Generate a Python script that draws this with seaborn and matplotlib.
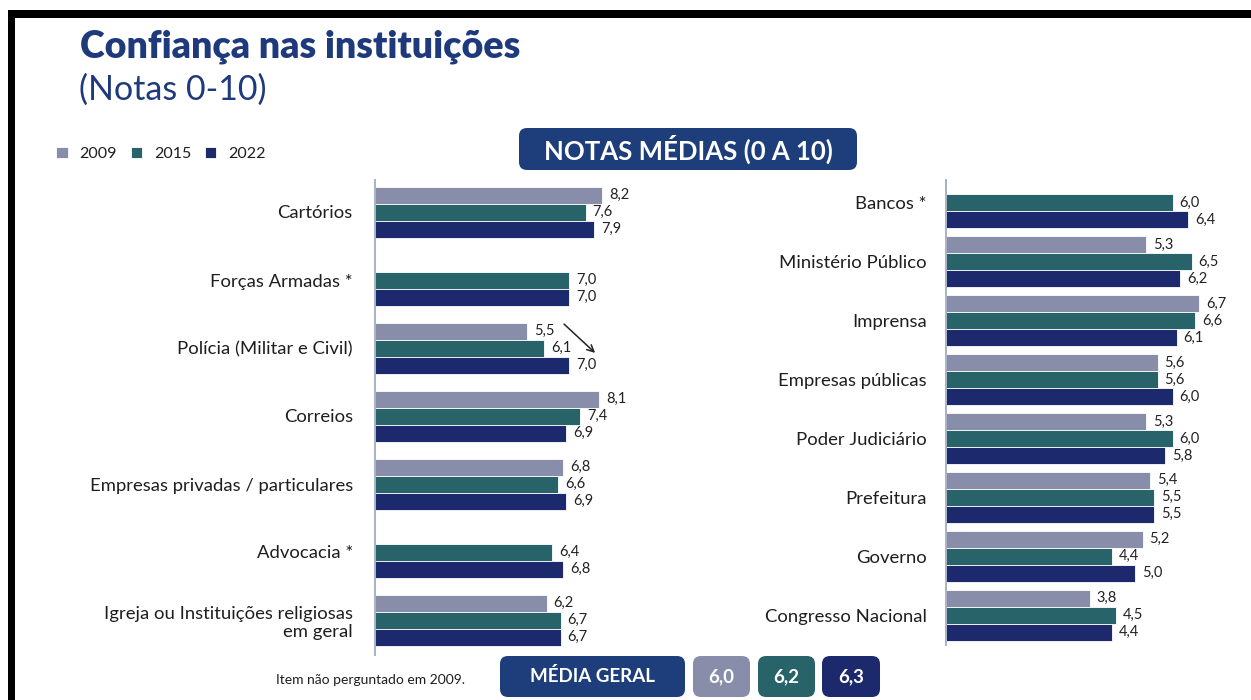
import numpy as np
import pandas as pd
import matplotlib
matplotlib.use("Agg")
import matplotlib.pyplot as plt
from matplotlib.patches import Rectangle, FancyBboxPatch
import seaborn as sns

# ---------------- data ----------------
years = ["2009", "2015", "2022"]

left_cats = ["Cartórios", "Forças Armadas *", "Polícia (Militar e Civil)", "Correios",
             "Empresas privadas / particulares", "Advocacia *",
             "Igreja ou Instituições religiosas\nem geral"]
left_2009 = [8.2, np.nan, 5.5, 8.1, 6.8, np.nan, 6.2]
left_2015 = [7.6, 7.0, 6.1, 7.4, 6.6, 6.4, 6.7]
left_2022 = [7.9, 7.0, 7.0, 6.9, 6.9, 6.8, 6.7]

right_cats = ["Bancos *", "Ministério Público", "Imprensa", "Empresas públicas",
              "Poder Judiciário", "Prefeitura", "Governo", "Congresso Nacional"]
right_2009 = [np.nan, 5.3, 6.7, 5.6, 5.3, 5.4, 5.2, 3.8]
right_2015 = [6.0, 6.5, 6.6, 5.6, 6.0, 5.5, 4.4, 4.5]
right_2022 = [6.4, 6.2, 6.1, 6.0, 5.8, 5.5, 5.0, 4.4]

media_geral = [6.0, 6.2, 6.3]

colors = ["#888EA9", "#28636A", "#1C2A6D"]
navy_box = "#1D3E7A"
title_color = "#1F3A7C"


def long_df(cats, v09, v15, v22):
    rows = []
    for c, a, b, d in zip(cats, v09, v15, v22):
        rows.append((c, "2009", a))
        rows.append((c, "2015", b))
        rows.append((c, "2022", d))
    return pd.DataFrame(rows, columns=["inst", "ano", "nota"])


df_left = long_df(left_cats, left_2009, left_2015, left_2022)
df_right = long_df(right_cats, right_2009, right_2015, right_2022)

sns.set_theme(style="white")
plt.rcParams["font.family"] = ["Lato", "DejaVu Sans"]

W, H = 1251, 700
fig = plt.figure(figsize=(W / 100, H / 100), dpi=100)
fig.patch.set_facecolor("white")


def px_axes(x0, y0, x1, y1):
    return fig.add_axes([x0 / W, 1 - y1 / H, (x1 - x0) / W, (y1 - y0) / H])


def px(x, y):
    return x / 100, (H - y) / 100


# frame
fig.patches.append(Rectangle(px(8, 18), (W - 8) / 100, 8 / 100, transform=fig.dpi_scale_trans,
                             facecolor="black", edgecolor="none"))
fig.patches.append(Rectangle(px(8, H), 7 / 100, (H - 10) / 100, transform=fig.dpi_scale_trans,
                             facecolor="black", edgecolor="none"))


def fmt(v):
    return f"{v:.1f}".replace(".", ",")


def draw_panel(ax, df, cats, width, xmax, ylim, pad):
    sns.barplot(data=df, y="inst", x="nota", hue="ano", hue_order=years, order=cats,
                palette=colors, saturation=1, orient="h", width=width, errorbar=None, ax=ax,
                edgecolor="white", linewidth=0.6, legend=True)
    ax.set_xlim(0, xmax)
    ax.set_ylim(*ylim)
    ax.set_xlabel("")
    ax.set_ylabel("")
    ax.set_xticks([])
    for s in ["top", "right", "bottom"]:
        ax.spines[s].set_visible(False)
    ax.spines["left"].set_color("#A9B1C9")
    ax.spines["left"].set_linewidth(1.4)
    ax.tick_params(axis="y", length=0, pad=pad, labelsize=13.3, labelcolor="#1e1e1e")
    for c in ax.containers:
        ax.bar_label(c, labels=[fmt(v) for v in c.datavalues], padding=5,
                     fontsize=10.5, color="#222222")
    ax.patch.set_alpha(0)


axL = px_axes(375, 180, 725, 655)
draw_panel(axL, df_left, left_cats, 0.75, 350 / 27.7, (6 + 35 / 68, -32 / 68), 16)
handles, labels = axL.get_legend_handles_labels()
axL.get_legend().remove()

axR = px_axes(946, 180, 1251, 645)
draw_panel(axR, df_right, right_cats, 0.866, 305 / 37.8, (7 + 30 / 58.9, -23 / 58.9), 14)
axR.get_legend().remove()

# arrow near Polícia
axL.annotate("", xy=(8.02, 2.1), xytext=(6.75, 1.62),
             arrowprops=dict(arrowstyle="->", color="#222222", lw=1.1))

# legend
fig.legend(handles, labels, loc="center left", bbox_to_anchor=(42 / W, 1 - 154 / H),
           ncol=3, frameon=False, fontsize=11.5, handlelength=0.7, handleheight=0.7,
           handletextpad=0.75, columnspacing=0.85, labelcolor="#1e1e1e")

# titles
fig.text(80 / W, 1 - 47 / H, "Confiança nas instituições", fontsize=27, fontweight="heavy",
         color=title_color, va="center", ha="left")
fig.text(79 / W, 1 - 90 / H, "(Notas 0-10)", fontsize=24.5, fontweight="normal",
         color=title_color, va="center", ha="left")


def box(x0, y0, x1, y1, color, text, fs):
    fig.patches.append(FancyBboxPatch(px(x0, y1), (x1 - x0) / 100, (y1 - y0) / 100,
                                      boxstyle="round,pad=0,rounding_size=0.08",
                                      transform=fig.dpi_scale_trans,
                                      facecolor=color, edgecolor="none"))
    fig.text((x0 + x1) / 2 / W, 1 - (y0 + y1) / 2 / H, text, color="white", fontsize=fs,
             fontweight="bold", ha="center", va="center")


box(519, 128, 857, 170, navy_box, "NOTAS MÉDIAS (0 A 10)", 18.5)
box(500, 656, 685, 697, navy_box, "MÉDIA GERAL", 13.5)
for (x0, x1), col, v in zip([(693, 750), (758, 815), (822, 880)], colors, media_geral):
    box(x0, 656, x1, 697, col, fmt(v), 13.5)

fig.text(276 / W, 1 - 680 / H, "Item não perguntado em 2009.", fontsize=10,
         color="#1e1e1e", ha="left", va="center")

fig.savefig("out.png", dpi=100)
